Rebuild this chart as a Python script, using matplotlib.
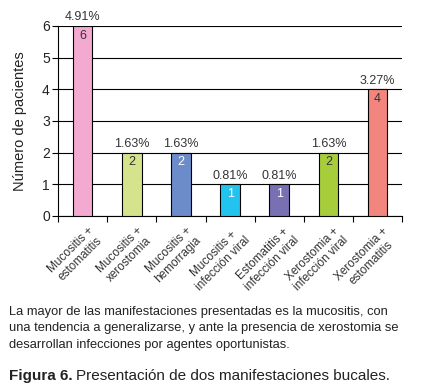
import matplotlib.pyplot as plt
import numpy as np

plt.rcParams['font.family'] = ['Liberation Sans', 'DejaVu Sans']

categorias = ['Mucositis +\nestomatitis', 'Mucositis +\nxerostomia', 'Mucositis +\nhemorragia',
              'Mucositis +\ninfección viral', 'Estomatitis +\ninfección viral',
              'Xerostomia +\ninfección viral', 'Xerostomia +\nestomatitis']
pacientes = [6, 2, 2, 1, 1, 2, 4]
porcentajes = ['4.91%', '1.63%', '1.63%', '0.81%', '0.81%', '1.63%', '3.27%']
colores = ['#f4a9d0', '#d5e38c', '#6b8cc9', '#23c3ef', '#7771b3', '#a7cd3b', '#f3857f']
color_num = ['#333333', '#333333', 'white', 'white', 'white', '#333333', '#333333']

fig = plt.figure(figsize=(4.21, 3.92), dpi=100)
ax = fig.add_axes([0.138, 0.449, 0.817, 0.485])

x = np.arange(len(pacientes))
ax.bar(x, pacientes, width=0.4, color=colores, edgecolor='black', linewidth=0.8, zorder=3)

for i, (v, p) in enumerate(zip(pacientes, porcentajes)):
    ax.text(i, v + 0.08, p, ha='center', va='bottom', fontsize=9, color='#333333')
    ax.text(i, v - 0.12, str(v), ha='center', va='top', fontsize=9, color=color_num[i], zorder=4)

ax.set_xlim(-0.5, len(pacientes) - 0.5)
ax.set_ylim(0, 6)
ax.set_yticks(range(7))
ax.yaxis.grid(True, color='black', linewidth=0.8, zorder=0)
ax.set_axisbelow(True)
for s in ['top', 'right']:
    ax.spines[s].set_visible(False)
ax.spines['left'].set_linewidth(0.8)
ax.spines['bottom'].set_linewidth(0.8)

ax.set_xticks(np.arange(-0.5, len(pacientes), 1.0))
ax.set_xticklabels([])
ax.tick_params(axis='x', length=4, width=0.8)
ax.tick_params(axis='y', length=4, width=0.8, labelsize=10, pad=2, labelcolor='#222222')
for i, c in enumerate(categorias):
    ax.text(i + 0.1, -0.28, c, rotation=45, ha='right', va='top', rotation_mode='anchor',
            fontsize=8.5, color='#333333', multialignment='center', linespacing=1.1,
            transform=ax.transData)

ax.set_ylabel('Número de pacientes', fontsize=10.5, color='#222222', labelpad=11)

fig.text(0.022, 0.22, 'La mayor de las manifestaciones presentadas es la mucositis, con\n'
         'una tendencia a generalizarse, y ante la presencia de xerostomia se\n'
         'desarrollan infecciones por agentes oportunistas.',
         fontsize=9.3, va='top', ha='left', color='#222222', linespacing=1.5)
t1 = fig.text(0.022, 0.03, 'Figura 6.', fontsize=11, fontweight='bold', va='baseline',
              ha='left', color='#222222')
fig.canvas.draw()
bb = t1.get_window_extent().transformed(fig.transFigure.inverted())
fig.text(bb.x1 + 0.008, 0.03, 'Presentación de dos manifestaciones bucales.', fontsize=11,
         va='baseline', ha='left', color='#222222')

fig.savefig('out.png', dpi=100)
